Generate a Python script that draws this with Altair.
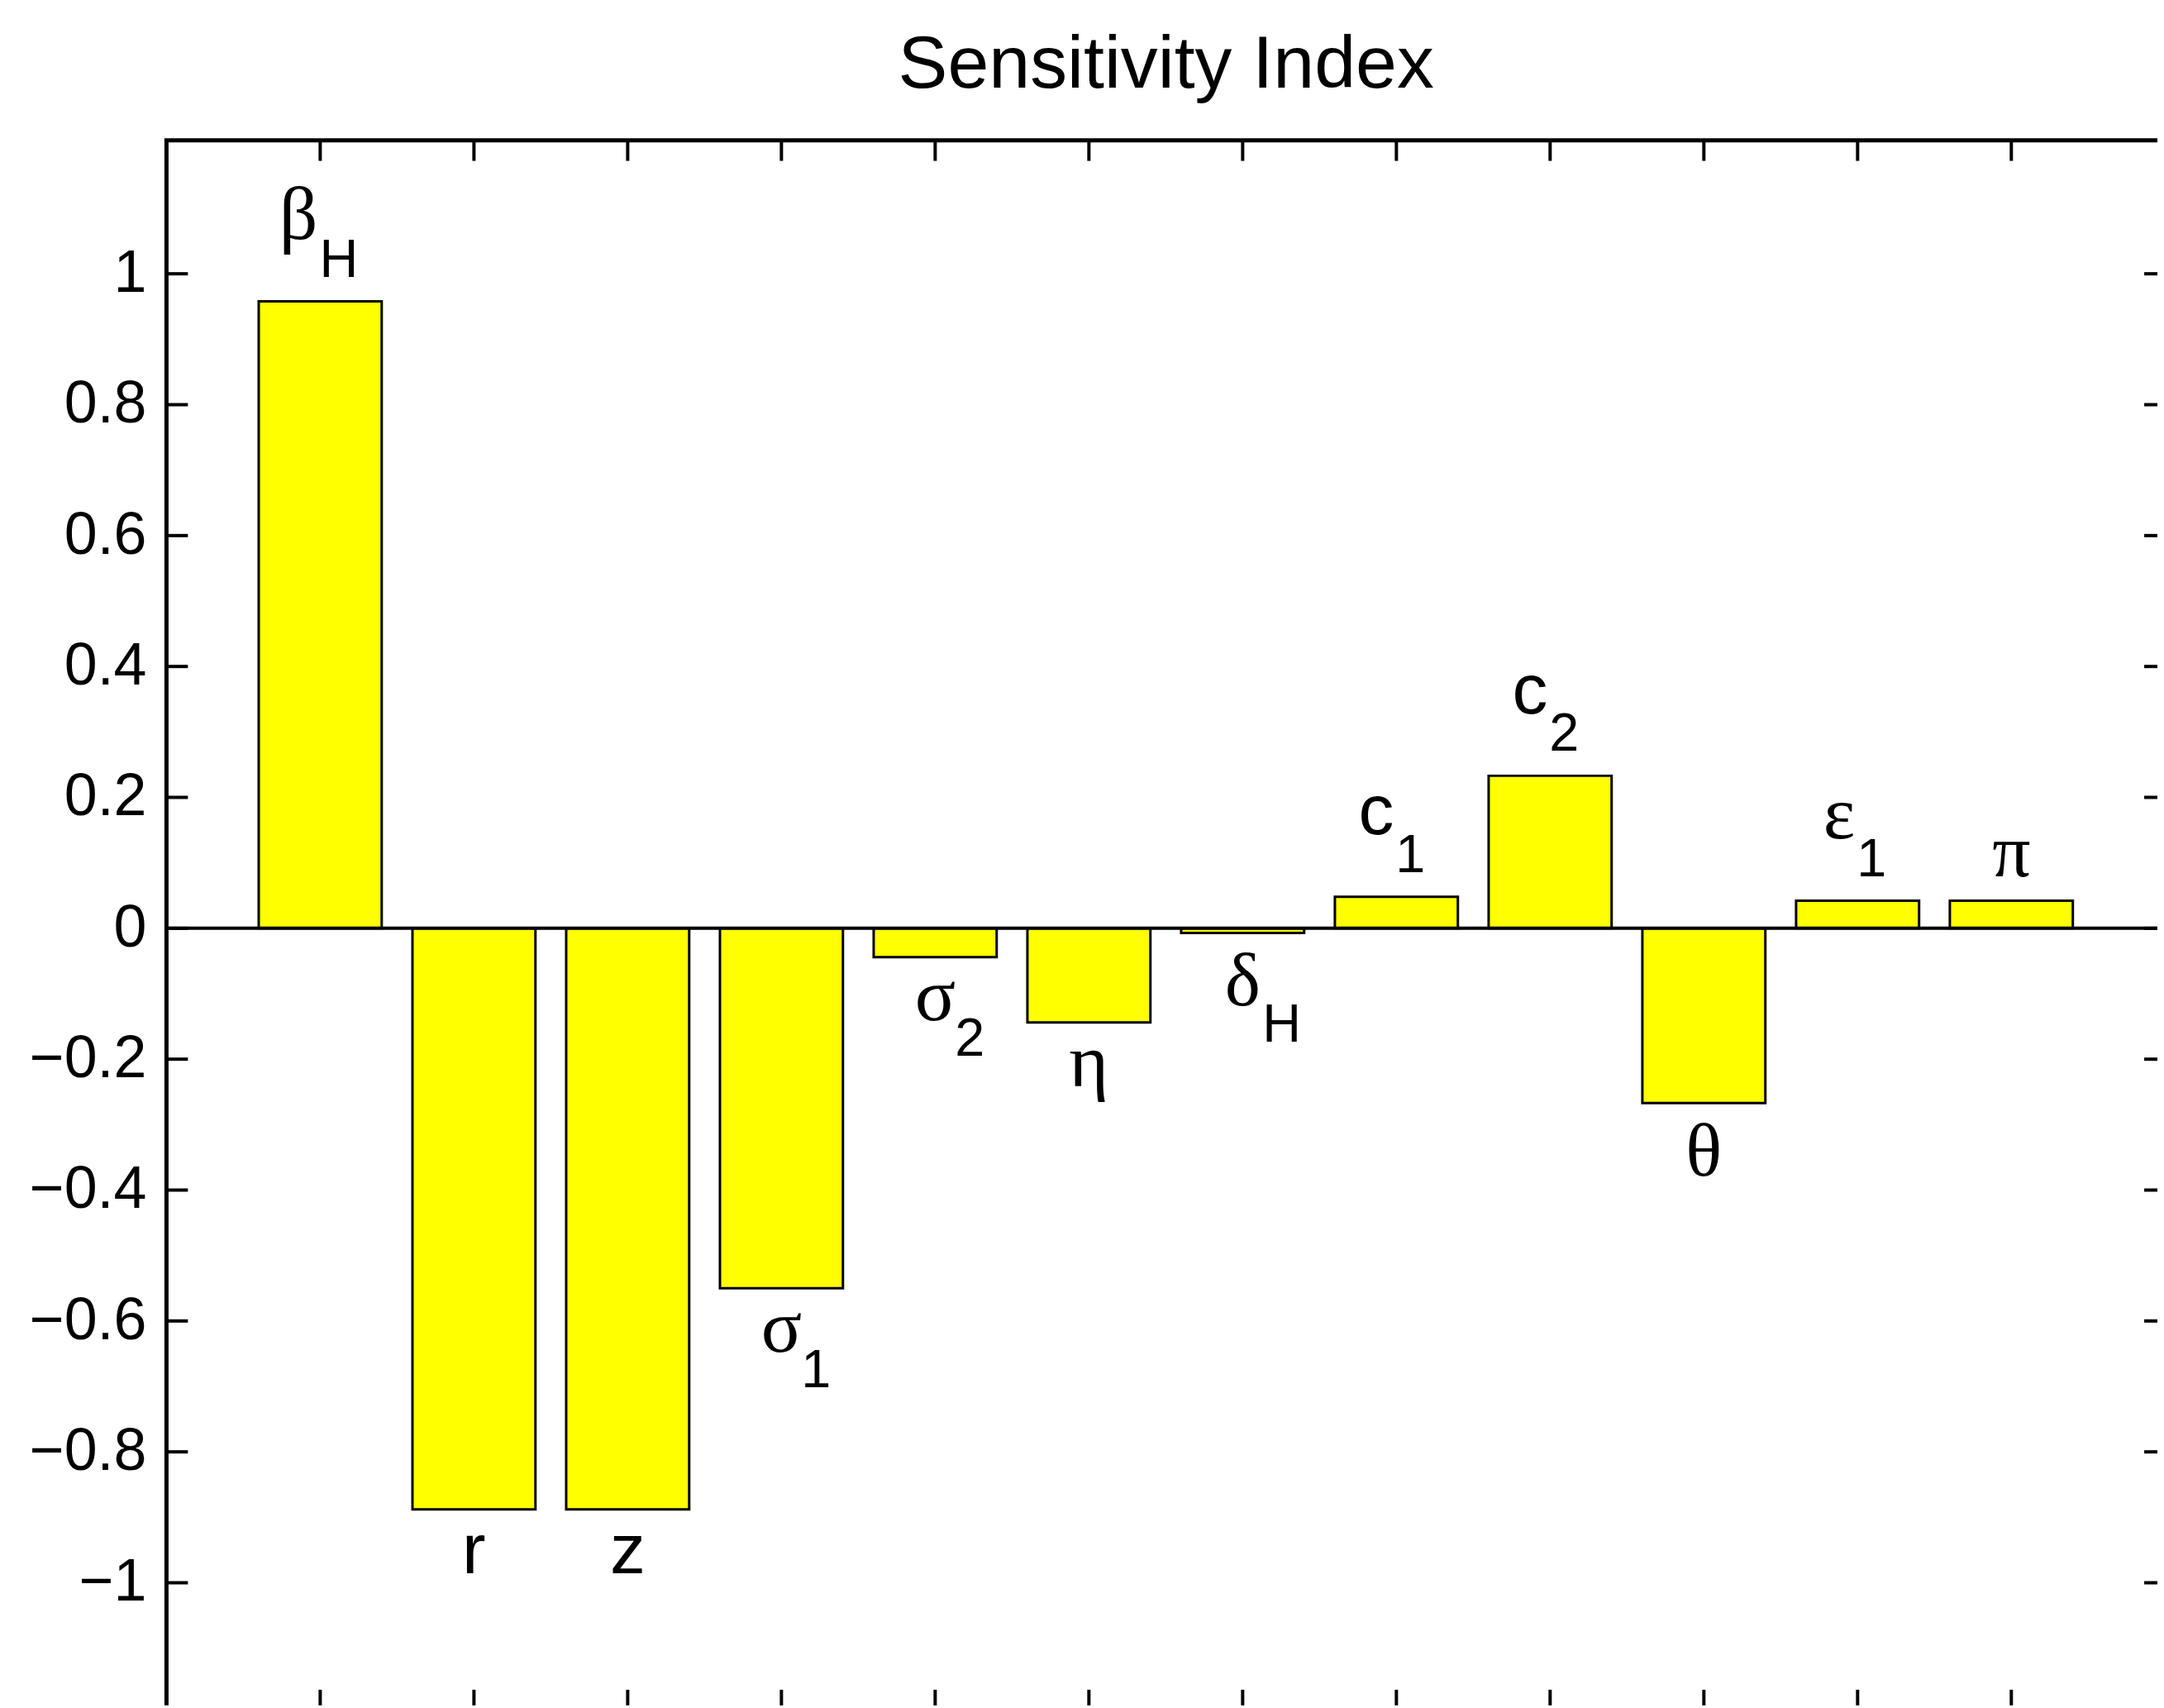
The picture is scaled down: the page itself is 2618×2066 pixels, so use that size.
import altair as alt
import pandas as pd

# ---- data ----
param_main = ["β", "r", "z", "σ", "σ", "η", "δ", "c", "c", "θ", "ε", "π"]
param_sub = ["H", "", "", "1", "2", "", "H", "1", "2", "", "1", ""]
param_greek = [True, False, False, True, True, True, True, False, False, True, True, True]
sens_values = [0.958, -0.888, -0.888, -0.550, -0.044, -0.144, -0.007, 0.048, 0.233, -0.267, 0.042, 0.042]
bar_positions = list(range(1, 13))
y_tick_values = [-1, -0.8, -0.6, -0.4, -0.2, 0, 0.2, 0.4, 0.6, 0.8, 1]
y_tick_labels = ["\u22121", "\u22120.8", "\u22120.6", "\u22120.4", "\u22120.2", "0",
                 "0.2", "0.4", "0.6", "0.8", "1"]
chart_title = "Sensitivity Index"

W, H = 2416, 1886
BOTTOM_EXTRA = 13

df = pd.DataFrame({
    "pos": bar_positions,
    "value": sens_values,
    "main": param_main,
    "sub": param_sub,
    "greek": param_greek,
})
ytick_df = pd.DataFrame({"t": y_tick_values, "label": y_tick_labels})
xtick_df = pd.DataFrame({"p": bar_positions})
one_df = pd.DataFrame({"d": [0]})

xscale = alt.Scale(domain=[0, 12.95], nice=False, zero=False)
yscale = alt.Scale(domain=[-1.171, 1.204], nice=False, zero=False)

TALL = "(datum.main == 'θ' || datum.main == 'δ')"

bars = alt.Chart(df).transform_calculate(
    x0="datum.pos - 0.4", x1="datum.pos + 0.4"
).mark_bar(fill="#ffff00", stroke="black", strokeWidth=3).encode(
    x=alt.X("x0:Q", scale=xscale, axis=None),
    x2="x1:Q",
    y=alt.Y("value:Q", scale=yscale, axis=None),
    y2=alt.datum(0),
)

zero_line = alt.Chart(one_df).mark_rule(color="black", strokeWidth=4).encode(
    y=alt.Y(datum=0, scale=yscale, axis=None),
    x=alt.value(0), x2=alt.value(W),
)

# frame: top and left edges (right/bottom lie beyond the picture)
top_line = alt.Chart(one_df).mark_rule(color="black", strokeWidth=5).encode(
    y=alt.value(0), x=alt.value(-2.5), x2=alt.value(W),
)
left_line = alt.Chart(one_df).mark_rule(color="black", strokeWidth=5).encode(
    x=alt.value(0), y=alt.value(0), y2=alt.value(H + BOTTOM_EXTRA),
)

# inward ticks
left_ticks = alt.Chart(ytick_df).mark_rule(color="black", strokeWidth=4).encode(
    y=alt.Y("t:Q", scale=yscale, axis=None), x=alt.value(0), x2=alt.value(26),
)
right_ticks = alt.Chart(ytick_df).mark_rule(color="black", strokeWidth=4).encode(
    y=alt.Y("t:Q", scale=yscale, axis=None), x=alt.value(W - 16), x2=alt.value(W),
)
top_ticks = alt.Chart(xtick_df).mark_rule(color="black", strokeWidth=4).encode(
    x=alt.X("p:Q", scale=xscale, axis=None), y=alt.value(0), y2=alt.value(25),
)
bottom_ticks = alt.Chart(xtick_df).mark_rule(color="black", strokeWidth=4).encode(
    x=alt.X("p:Q", scale=xscale, axis=None), y=alt.value(H - 6), y2=alt.value(H + BOTTOM_EXTRA),
)

# y tick labels
y_labels = alt.Chart(ytick_df).mark_text(
    font="Liberation Sans", fontSize=72, align="right", baseline="middle", color="black",
).encode(
    y=alt.Y("t:Q", scale=yscale, axis=None), x=alt.value(-24), text="label:N",
)

main_labels = alt.Chart(df).mark_text(
    font=alt.expr("datum.greek ? 'Liberation Serif' : 'Liberation Sans'"),
    fontSize=alt.expr("datum.greek ? 92 : 86"),
    align=alt.expr("datum.sub != '' && datum.value > 0 ? 'right' : 'center'"),
    dx=alt.expr("datum.sub != '' && datum.value > 0 ? -3 : 0"),
    dy=alt.expr(
        "datum.value > 0 ? (datum.sub != '' ? -76 : -30) : (" + TALL + " ? 88 : 77)"
    ),
    baseline="alphabetic",
    color="black",
).encode(
    x=alt.X("pos:Q", scale=xscale, axis=None),
    y=alt.Y("value:Q", scale=yscale, axis=None),
    text="main:N",
)

sub_labels = alt.Chart(df).transform_filter("datum.sub != ''").mark_text(
    font="Liberation Sans", fontSize=65, align="left",
    dx=alt.expr("datum.value > 0 ? -1 : 24"),
    dy=alt.expr("datum.value > 0 ? -30 : (" + TALL + " ? 132 : 120)"),
    baseline="alphabetic",
    color="black",
).encode(
    x=alt.X("pos:Q", scale=xscale, axis=None),
    y=alt.Y("value:Q", scale=yscale, axis=None),
    text="sub:N",
)

chart = alt.layer(
    bars, zero_line, top_line, left_line, left_ticks, right_ticks, top_ticks, bottom_ticks,
    y_labels, main_labels, sub_labels,
).properties(
    width=W, height=H,
    background="white",
    title=alt.TitleParams(
        chart_title, font="Liberation Sans", fontSize=90, fontWeight="normal",
        color="black", anchor="middle", baseline="alphabetic", offset=-29, dx=5, frame="group",
    ),
    padding={"left": 194, "top": 159, "right": 0, "bottom": BOTTOM_EXTRA},
    autosize=alt.AutoSizeParams(type="none"),
).configure_view(stroke=None)

chart.save("out.html", embed_options={"renderer": "svg", "actions": False})
